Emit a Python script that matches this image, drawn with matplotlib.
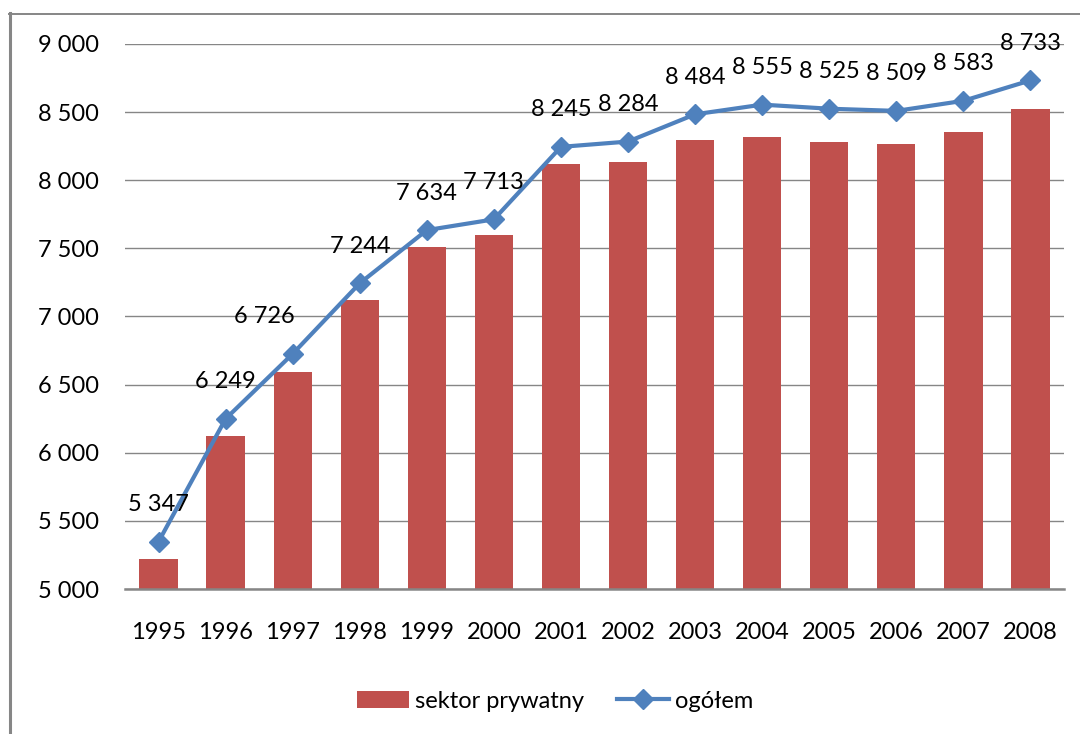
import numpy as np
import matplotlib.pyplot as plt
from matplotlib.lines import Line2D

# data
years = [1995, 1996, 1997, 1998, 1999, 2000, 2001,
         2002, 2003, 2004, 2005, 2006, 2007, 2008]
private_sector = [5220, 6123, 6593, 7121, 7510, 7598, 8119,
                  8134, 8295, 8317, 8281, 8266, 8354, 8523]
total = [5347, 6249, 6726, 7244, 7634, 7713, 8245,
         8284, 8484, 8555, 8525, 8509, 8583, 8733]
yticks = [5000, 5500, 6000, 6500, 7000, 7500, 8000, 8500, 9000]

bar_color = '#C0504D'
line_color = '#4F81BD'
grid_color = '#868686'

plt.rcParams['font.family'] = ['Lato', 'DejaVu Sans']


def fmt(v):
    return f'{v:,}'.replace(',', ' ')


fig = plt.figure(figsize=(10.8, 7.34), dpi=100)
ax = fig.add_axes([125 / 1080, 1 - 589 / 734, 939 / 1080, 545 / 734])

x = np.arange(len(years))
bars = ax.bar(x, private_sector, width=0.57, color=bar_color, zorder=2,
              label='sektor prywatny')
line, = ax.plot(x, total, color=line_color, lw=3, marker='D', markersize=10,
                zorder=3, label='ogółem')

# labels over the line (1997 one sits a bit to the left)
for i, v in enumerate(total):
    dx = -28 if years[i] == 1997 else 0
    ax.annotate(fmt(v), (x[i], v), xytext=(dx, 37), textcoords='offset pixels',
                ha='center', va='center', fontsize=17, color='black')

ax.set_xlim(-0.5, len(years) - 0.5)
ax.set_ylim(5000, 9000)
ax.set_yticks(yticks)
ax.set_yticklabels([fmt(t) for t in yticks])
ax.set_xticks(x)
ax.set_xticklabels([str(y) for y in years])
ax.tick_params(axis='both', length=0, labelsize=17)
ax.tick_params(axis='x', pad=24)
ax.tick_params(axis='y', pad=19)

ax.grid(axis='y', color=grid_color, lw=1, zorder=0)
for s in ['top', 'right', 'left']:
    ax.spines[s].set_visible(False)
ax.spines['bottom'].set_color(grid_color)
ax.spines['bottom'].set_linewidth(1.8)
ax.spines['bottom'].set_zorder(4)

# chart frame (left + top edges)
fig.add_artist(Line2D([10 / 1080, 10 / 1080], [0, 1 - 13 / 734],
                      color=grid_color, lw=2.2, transform=fig.transFigure))
fig.add_artist(Line2D([9 / 1080, 1], [1 - 13.5 / 734, 1 - 13.5 / 734],
                      color=grid_color, lw=1.4, transform=fig.transFigure))

fig.legend([bars, line], ['sektor prywatny', 'ogółem'], loc='center',
           bbox_to_anchor=(555 / 1080, 1 - 701 / 734),
           ncol=2, frameon=False, fontsize=17, handlelength=2.2,
           handletextpad=0.25, columnspacing=1.4)

fig.savefig('out.png', dpi=100)
